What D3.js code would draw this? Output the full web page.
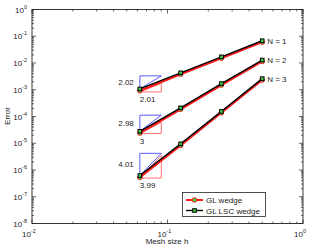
<!DOCTYPE html>
<html lang="en">
<head>
    <meta charset="UTF-8">
    <script src="https://d3js.org/d3.v7.min.js"></script>
    <title>Error vs mesh size</title>
<style>
    body {
        margin: 0;
        background: white;
    }
    svg text {
        font-family: "Liberation Sans", Arial, sans-serif;
        font-size: 8px;
        fill: #222;
    }
</style>
</head>
<body>
<script>

    // mesh sizes
    var meshSizes = [1/16, 1/8, 1/4, 1/2];
    var orderNames = ["N = 1", "N = 2", "N = 3"];

    // GL wedge (red circles)
    var glWedgeN1 = [9.2e-4, 3.8e-3, 1.5e-2, 6.0e-2];
    var glWedgeN2 = [2.4e-5, 1.85e-4, 1.5e-3, 1.14e-2];
    var glWedgeN3 = [5.3e-7, 8.3e-6, 1.37e-4, 2.3e-3];

    // GL LSC wedge (black squares)
    var lscWedgeN1 = [1.07e-3, 4.3e-3, 1.7e-2, 6.8e-2];
    var lscWedgeN2 = [2.8e-5, 2.1e-4, 1.7e-3, 1.29e-2];
    var lscWedgeN3 = [6.2e-7, 9.5e-6, 1.55e-4, 2.6e-3];

    // slope triangles: h from triX[0] to triX[1]
    var triX = [1/16, 0.09];
    var blueBottom = [1.07e-3, 2.8e-5, 6.2e-7];
    var blueTop = [3.3e-3, 1.12e-4, 4.2e-6];
    var redBottom = [8.3e-4, 2.3e-5, 5.0e-7];
    var redTop = [1.73e-3, 6.0e-5, 3.5e-6];
    var blueSlopes = ["2.02", "2.98", "4.01"];
    var redSlopes = ["2.01", "3", "3.99"];

    var xTicks = [1e-2, 1e-1, 1e0];
    var yTicks = [1e-8, 1e-7, 1e-6, 1e-5, 1e-4, 1e-3, 1e-2, 1e-1, 1e0];

    var legendNames = ["GL wedge", "GL LSC wedge"];

    var width = 312, height = 248;
    var plotLeft = 32, plotRight = 303, plotTop = 9.5, plotBottom = 223.5;
    var green = "#44cc44";

    var svg = d3.select("body").append("svg")
        .attr("width", width)
        .attr("height", height);

    var x = d3.scaleLog().domain([1e-2, 1]).range([plotLeft, plotRight]);
    var y = d3.scaleLog().domain([1e-8, 1]).range([plotBottom, plotTop]);

    // minor ticks for both log axes
    var xMinor = [], yMinor = [];
    for (let e = -2; e < 0; e++) {
        for (let k = 2; k <= 9; k++) xMinor.push(k * Math.pow(10, e));
    }
    for (let e = -8; e < 0; e++) {
        for (let k = 2; k <= 9; k++) yMinor.push(k * Math.pow(10, e));
    }

    var ax = svg.append("g").attr("stroke", "#222").attr("stroke-width", 0.7);

    // ticks point inward on all four sides
    xTicks.concat(xMinor).forEach(function (d) {
        var len = xTicks.indexOf(d) >= 0 ? 4 : 2;
        ax.append("line").attr("x1", x(d)).attr("x2", x(d)).attr("y1", plotBottom).attr("y2", plotBottom - len);
        ax.append("line").attr("x1", x(d)).attr("x2", x(d)).attr("y1", plotTop).attr("y2", plotTop + len);
    });
    yTicks.concat(yMinor).forEach(function (d) {
        var len = yTicks.indexOf(d) >= 0 ? 4 : 2;
        ax.append("line").attr("y1", y(d)).attr("y2", y(d)).attr("x1", plotLeft).attr("x2", plotLeft + len);
        ax.append("line").attr("y1", y(d)).attr("y2", y(d)).attr("x1", plotRight).attr("x2", plotRight - len);
    });

    svg.append("rect")
        .attr("x", plotLeft).attr("y", plotTop)
        .attr("width", plotRight - plotLeft).attr("height", plotBottom - plotTop)
        .attr("fill", "none").attr("stroke", "#222").attr("stroke-width", 0.9);

    // tick labels 10^n
    yTicks.forEach(function (d) {
        var t = svg.append("text")
            .attr("x", plotLeft - 5).attr("y", y(d) + 3)
            .attr("text-anchor", "end");
        t.append("tspan").text("10");
        t.append("tspan").attr("dy", -4).style("font-size", "5.5px").text(Math.round(Math.log10(d)));
    });
    xTicks.forEach(function (d) {
        var t = svg.append("text")
            .attr("x", x(d) - 3).attr("y", plotBottom + 13)
            .attr("text-anchor", "middle");
        t.append("tspan").text("10");
        t.append("tspan").attr("dy", -4).style("font-size", "5.5px").text(Math.round(Math.log10(d)));
    });

    svg.append("text")
        .attr("transform", "translate(10," + 116 + ") rotate(-90)")
        .attr("text-anchor", "middle")
        .text("Error");
    svg.append("text")
        .attr("x", 167).attr("y", 244)
        .attr("text-anchor", "middle")
        .text("Mesh size h");

    // slope triangles
    var tri = svg.append("g");
    for (let i = 0; i < 3; i++) {
        tri.append("path")
            .attr("d", "M" + x(triX[0]) + "," + y(blueBottom[i]) +
                       "L" + x(triX[0]) + "," + y(blueTop[i]) +
                       "L" + x(triX[1]) + "," + y(blueTop[i]) + "Z")
            .attr("fill", "none").attr("stroke", "#4a4aff").attr("stroke-width", 0.9);
        tri.append("path")
            .attr("d", "M" + x(triX[0]) + "," + y(redBottom[i]) +
                       "L" + x(triX[1]) + "," + y(redBottom[i]) +
                       "L" + x(triX[1]) + "," + y(redTop[i]) + "Z")
            .attr("fill", "none").attr("stroke", "#ff6060").attr("stroke-width", 0.9);
        tri.append("text")
            .attr("x", x(triX[0]) - 6)
            .attr("y", (y(blueBottom[i]) + y(blueTop[i])) / 2 + 3)
            .attr("text-anchor", "end")
            .text(blueSlopes[i]);
        tri.append("text")
            .attr("x", x(triX[0]))
            .attr("y", y(redBottom[i]) + 10)
            .text(redSlopes[i]);
    }

    var line = d3.line()
        .x(function (d, i) { return x(meshSizes[i]); })
        .y(function (d) { return y(d); });

    var glSeries = [glWedgeN1, glWedgeN2, glWedgeN3];
    var lscSeries = [lscWedgeN1, lscWedgeN2, lscWedgeN3];

    // red GL wedge under the black one
    glSeries.forEach(function (s) {
        svg.append("path").attr("d", line(s))
            .attr("fill", "none").attr("stroke", "#ff1a1a").attr("stroke-width", 2);
        svg.selectAll(null).data(s).enter().append("circle")
            .attr("cx", function (d, i) { return x(meshSizes[i]); })
            .attr("cy", function (d) { return y(d); })
            .attr("r", 2.3)
            .attr("fill", green).attr("stroke", "#ff1a1a").attr("stroke-width", 1);
    });

    lscSeries.forEach(function (s, k) {
        svg.append("path").attr("d", line(s))
            .attr("fill", "none").attr("stroke", "black").attr("stroke-width", 1.4);
        svg.selectAll(null).data(s).enter().append("rect")
            .attr("x", function (d, i) { return x(meshSizes[i]) - 1.8; })
            .attr("y", function (d) { return y(d) - 1.8; })
            .attr("width", 3.6).attr("height", 3.6)
            .attr("fill", green).attr("stroke", "black").attr("stroke-width", 1);
        svg.append("text")
            .attr("x", x(meshSizes[3]) + 5)
            .attr("y", y(s[3]) + 3)
            .text(orderNames[k]);
    });

    // legend
    var lg = svg.append("g");
    lg.append("rect")
        .attr("x", 182.5).attr("y", 192.5)
        .attr("width", 83).attr("height", 24)
        .attr("fill", "white").attr("stroke", "#222").attr("stroke-width", 0.8);

    var legendColors = ["#ff1a1a", "black"];
    legendNames.forEach(function (name, i) {
        var ly = 200 + i * 10.5;
        lg.append("line")
            .attr("x1", 186).attr("x2", 203).attr("y1", ly).attr("y2", ly)
            .attr("stroke", legendColors[i]).attr("stroke-width", i == 0 ? 2 : 1.4);
        if (i == 0) {
            lg.append("circle").attr("cx", 194.5).attr("cy", ly).attr("r", 2.3)
                .attr("fill", green).attr("stroke", legendColors[i]);
        } else {
            lg.append("rect").attr("x", 192.7).attr("y", ly - 1.8).attr("width", 3.6).attr("height", 3.6)
                .attr("fill", green).attr("stroke", legendColors[i]);
        }
        lg.append("text")
            .attr("x", 206).attr("y", ly + 3)
            .text(name);
    });

</script>
</body>
</html>
